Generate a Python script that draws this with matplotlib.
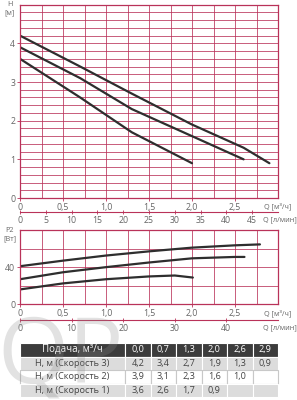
import matplotlib
matplotlib.use("Agg")
import matplotlib.pyplot as plt
import numpy as np

plt.rcParams['font.family'] = ['Open Sans', 'DejaVu Sans']

# ---- data ----
q_table = [0.0, 0.7, 1.3, 2.0, 2.6, 2.9]
h_speed3 = [4.2, 3.4, 2.7, 1.9, 1.3, 0.9]
h_speed2 = [3.9, 3.1, 2.3, 1.6, 1.0]
h_speed1 = [3.6, 2.6, 1.7, 0.9]

q_p3 = [0.0, 0.5, 1.0, 1.5, 2.0, 2.5, 2.79]
p_speed3 = [41, 47, 52.5, 57, 61, 63.5, 64.5]
q_p2 = [0.0, 0.5, 1.0, 1.5, 2.0, 2.5, 2.61]
p_speed2 = [27, 34.5, 40, 45, 49.5, 51, 51]
q_p1 = [0.0, 0.5, 1.0, 1.5, 1.8, 2.01]
p_speed1 = [16, 22.5, 27, 30, 31, 28.8]

q_ticks = [0, 0.5, 1.0, 1.5, 2.0, 2.5]
q_labels = ['0', '0,5', '1,0', '1,5', '2,0', '2,5']
l_ticks_top = [0, 5, 10, 15, 20, 25, 30, 35, 40, 45]
l_ticks_bot = [0, 10, 20, 30, 40]
q_unit = 'Q [м³/ч]'
l_unit = 'Q [л/мин]'

row_labels = ['Подача, м³/ч', 'H, м (Скорость 3)', 'H, м (Скорость 2)', 'H, м (Скорость 1)']

GRID = '#b93259'
TXT = '#666666'
CURVE = '#2e2e2e'
FS = 6.3

fig = plt.figure(figsize=(2.97, 4.0), dpi=100)
W, H = 297.0, 400.0

def style(ax):
    for s in ax.spines.values():
        s.set_color(GRID)
        s.set_linewidth(0.9)
    ax.grid(which='both', color=GRID, lw=0.65, alpha=0.85)
    ax.tick_params(which='major', length=2, width=0.6, color=GRID,
                   labelsize=FS, labelcolor=TXT, pad=1.5)
    ax.tick_params(which='minor', length=0)
    ax.set_axisbelow(True)

def to_l(q):
    return np.asarray(q) * 1000.0 / 60.0

def to_q(l):
    return np.asarray(l) * 60.0 / 1000.0

def sec_style(sec):
    sec.spines['bottom'].set_color(GRID)
    sec.spines['bottom'].set_linewidth(0.8)
    sec.tick_params(length=3, width=0.6, color=GRID, direction='inout',
                    labelsize=FS, labelcolor=TXT, pad=1.5)

def unit(x, y, s):
    fig.text(x / W, 1 - y / H, s, fontsize=5.2, color=TXT, ha='left', va='center')

# ---- H chart ----
ax1 = fig.add_axes([20 / W, 1 - 198 / H, 258 / W, 193.3 / H])
ax1.set_xlim(0, 3)
ax1.set_ylim(0, 5)
ax1.set_xticks(q_ticks)
ax1.set_xticklabels(q_labels)
ax1.set_xticks(np.arange(0, 3.01, 0.25), minor=True)
ax1.set_yticks([0, 1, 2, 3, 4])
ax1.set_yticks(np.arange(0, 5.01, 0.2), minor=True)
style(ax1)
for h in (h_speed3, h_speed2, h_speed1):
    ax1.plot(q_table[:len(h)], h, color=CURVE, lw=1.6, solid_capstyle='round')
fig.text(10 / W, 1 - 5 / H, 'H', fontsize=5.2, color=TXT, ha='center', va='center')
fig.text(10 / W, 1 - 12.5 / H, '[м]', fontsize=5.2, color=TXT, ha='center', va='center')

sec1 = ax1.secondary_xaxis(-0.071, functions=(to_l, to_q))
sec1.set_xticks(l_ticks_top)
sec1.set_xticklabels([str(v) for v in l_ticks_top])
sec_style(sec1)
unit(264, 206, q_unit)
unit(263, 219.5, l_unit)

# ---- P2 chart ----
ax2 = fig.add_axes([20 / W, 1 - 304.3 / H, 258 / W, 74.3 / H])
ax2.set_xlim(0, 3)
ax2.set_ylim(0, 80)
ax2.set_xticks(q_ticks)
ax2.set_xticklabels(q_labels)
ax2.set_xticks(np.arange(0, 3.01, 0.25), minor=True)
ax2.set_yticks([0, 40])
ax2.set_yticks(np.arange(0, 80.1, 20), minor=True)
style(ax2)
ax2.plot(q_p3, p_speed3, color=CURVE, lw=1.6, solid_capstyle='round')
ax2.plot(q_p2, p_speed2, color=CURVE, lw=1.6, solid_capstyle='round')
ax2.plot(q_p1, p_speed1, color=CURVE, lw=1.6, solid_capstyle='round')
fig.text(10 / W, 1 - 231 / H, 'P2', fontsize=5.2, color=TXT, ha='center', va='center')
fig.text(10 / W, 1 - 239 / H, '[Вт]', fontsize=5.2, color=TXT, ha='center', va='center')

sec2 = ax2.secondary_xaxis(-0.211, functions=(to_l, to_q))
sec2.set_xticks(l_ticks_bot)
sec2.set_xticklabels([str(v) for v in l_ticks_bot])
sec_style(sec2)
unit(264, 313, q_unit)
unit(263, 327.5, l_unit)

# ---- watermark ----
fig.text(-3 / W, 1 - 405 / H, 'QP', fontsize=66, color='#8c8c8c', alpha=0.25,
         ha='left', va='bottom', zorder=0)

# ---- table ----
axt = fig.add_axes([20 / W, 1 - 397 / H, 258 / W, 54 / H])
axt.axis('off')
cells = [[row_labels[0]] + ['%.1f' % v for v in q_table],
         [row_labels[1]] + ['%.1f' % v for v in h_speed3],
         [row_labels[2]] + ['%.1f' % v for v in h_speed2] + [''] * (len(q_table) - len(h_speed2)),
         [row_labels[3]] + ['%.1f' % v for v in h_speed1] + [''] * (len(q_table) - len(h_speed1))]
cells = [[c.replace('.', ',') for c in row] for row in cells]
colw = [105 / 258] + [25.5 / 258] * len(q_table)
tbl = axt.table(cellText=cells, colWidths=colw, bbox=[0, 0, 1, 1], cellLoc='center')
tbl.auto_set_font_size(False)
tbl.set_fontsize(6.6)
row_bg = ['#3c3c3c', '#dcdcdc', '#ffffff', '#dcdcdc']
for (r, c), cell in tbl.get_celld().items():
    cell.set_facecolor(row_bg[r])
    cell.set_edgecolor('#ffffff' if r != 2 else '#c8c8c8')
    cell.set_linewidth(0.8)
    cell.get_text().set_color('#ffffff' if r == 0 else '#444444')
    if r == 0 and c == 0:
        cell.get_text().set_fontsize(7)

fig.savefig('out.png', dpi=100)
